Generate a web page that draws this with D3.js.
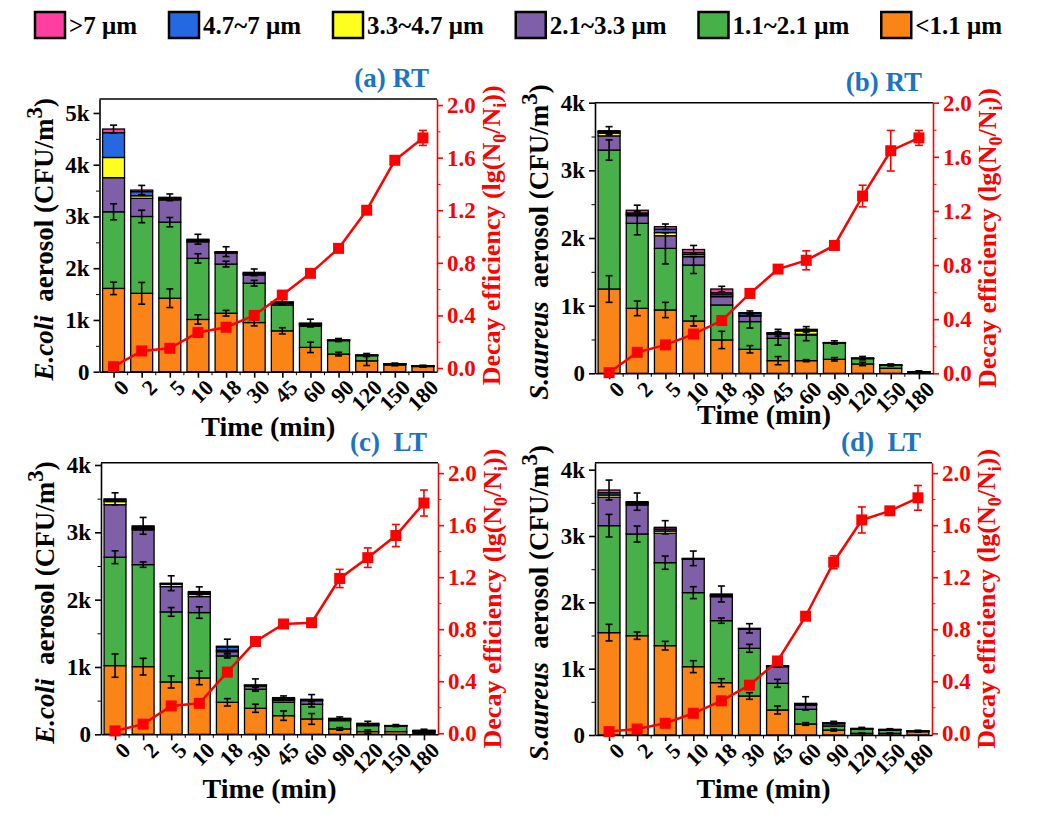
<!DOCTYPE html>
<html>
<head>
<meta charset="utf-8">
<script src="https://cdn.jsdelivr.net/npm/d3@7"></script>
<style>
body { margin: 0; background: #fff; }
svg { display: block; }
text { font-family: "Liberation Serif", "Times New Roman", serif; font-weight: bold; }
</style>
</head>
<body>
<svg id="chart" width="1061" height="822"></svg>
<script>
// categories and size bins
const times = ["0", "2", "5", "10", "18", "30", "45", "60", "90", "120", "150", "180"];
const binNames = ["<1.1 μm", "1.1~2.1 μm", "2.1~3.3 μm", "3.3~4.7 μm", "4.7~7 μm", ">7 μm"];
const binColors = ["#fb8417", "#47b049", "#7f5fa8", "#ffff1f", "#2468e2", "#ff3fa0"];
const legendOrder = [5, 4, 3, 2, 1, 0];

// (a) E.coli RT : CFU/m3 per size bin (<1.1 ... >7)
const aBins = [
    [1610, 1515, 1420, 1010, 1130, 950, 790, 470, 340, 210, 130, 100],
    [1480, 1485, 1470, 1180, 950, 760, 500, 410, 260, 100, 15, 5],
    [660, 350, 430, 320, 210, 160, 30, 25, 5, 5, 3, 2],
    [390, 50, 20, 20, 10, 20, 10, 15, 3, 3, 2, 1],
    [480, 80, 15, 15, 10, 15, 10, 10, 2, 2, 1, 1],
    [70, 30, 15, 15, 10, 15, 10, 10, 2, 2, 1, 1]
];
// error bars: <1.1 top, 1.1~2.1 top, total top
const aErr = [
    [120, 210, 180, 90, 55, 65, 60, 100, 35, 90, 15, 10],
    [155, 120, 90, 90, 55, 55, 0, 0, 0, 0, 0, 0],
    [75, 90, 65, 95, 95, 65, 55, 75, 30, 30, 15, 15]
];
const aDecay = [0.01, 0.13, 0.15, 0.27, 0.31, 0.40, 0.555, 0.72, 0.91, 1.20, 1.58, 1.75];
const aDecayErr = [0, 0, 0, 0, 0, 0, 0, 0, 0, 0, 0, 0.057];

// (b) S.aureus RT
const bBins = [
    [1246, 960, 936, 773, 493, 355, 187, 187, 207, 138, 74, 15],
    [2054, 1257, 911, 827, 517, 409, 330, 380, 236, 79, 44, 3],
    [210, 113, 187, 124, 123, 83, 63, 10, 5, 3, 2, 1],
    [40, 20, 46, 30, 27, 10, 8, 49, 3, 2, 1, 1],
    [20, 20, 50, 30, 30, 30, 6, 10, 2, 1, 1, 1],
    [16, 40, 37, 46, 56, 10, 6, 14, 2, 1, 1, 1]
];
const bErr = [
    [197, 108, 113, 74, 128, 54, 60, 15, 25, 25, 0, 0],
    [150, 170, 230, 125, 0, 95, 100, 85, 0, 0, 0, 0],
    [60, 75, 40, 60, 40, 25, 50, 40, 25, 25, 15, 15]
];
const bDecay = [0.005, 0.155, 0.21, 0.29, 0.39, 0.59, 0.77, 0.835, 0.945, 1.31, 1.645, 1.74];
const bDecayErr = [0, 0, 0, 0, 0, 0, 0, 0.07, 0.03, 0.08, 0.15, 0.055];

// (c) E.coli LT
const cBins = [
    [1020, 1005, 778, 837, 475, 386, 277, 228, 80, 40, 40, 20],
    [1610, 1515, 1040, 971, 689, 283, 198, 218, 123, 89, 84, 15],
    [780, 516, 376, 238, 64, 49, 30, 54, 15, 14, 3, 10],
    [47, 20, 35, 34, 20, 5, 10, 6, 5, 5, 1, 5],
    [23, 20, 8, 20, 50, 5, 10, 5, 5, 5, 1, 5],
    [17, 20, 7, 20, 10, 5, 20, 9, 10, 10, 1, 5]
];
const cErr = [
    [173, 124, 90, 100, 55, 60, 70, 80, 20, 25, 0, 0],
    [95, 40, 65, 85, 30, 30, 0, 40, 0, 0, 0, 0],
    [90, 125, 110, 70, 105, 90, 25, 70, 20, 30, 15, 15]
];
const cDecay = [0.018, 0.07, 0.21, 0.23, 0.47, 0.705, 0.84, 0.85, 1.19, 1.35, 1.52, 1.77];
const cDecayErr = [0, 0, 0, 0, 0, 0, 0, 0, 0.07, 0.075, 0.085, 0.1];

// (d) S.aureus LT
const dBins = [
    [1543, 1497, 1347, 1030, 789, 588, 377, 166, 75, 25, 25, 50],
    [1613, 1533, 1251, 1116, 935, 719, 402, 221, 61, 60, 50, 3],
    [427, 437, 442, 502, 361, 291, 251, 65, 35, 5, 3, 2],
    [35, 17, 35, 5, 14, 3, 5, 8, 5, 3, 2, 2],
    [35, 17, 31, 5, 14, 3, 5, 8, 5, 3, 2, 2],
    [40, 17, 25, 5, 13, 4, 5, 9, 5, 4, 3, 3]
];
const dErr = [
    [125, 55, 65, 90, 60, 50, 60, 20, 15, 5, 5, 5],
    [170, 120, 100, 90, 40, 60, 60, 0, 0, 0, 0, 0],
    [150, 130, 100, 110, 120, 70, 20, 100, 20, 15, 10, 10]
];
const dDecay = [0.013, 0.033, 0.077, 0.154, 0.25, 0.37, 0.556, 0.90, 1.315, 1.64, 1.71, 1.81];
const dDecayErr = [0, 0, 0, 0, 0, 0, 0, 0, 0.05, 0.1, 0.03, 0.095];

const leftTicks = [0, 1000, 2000, 3000, 4000, 5000];
const rightTicks = [0, 0.4, 0.8, 1.2, 1.6, 2.0];

const svg = d3.select("#chart");
const blue = "#1a73c4";
const red = "#ff0000";

const panels = [
    {bins: aBins, err: aErr, decay: aDecay, decayErr: aDecayErr, title: "(a) RT", species: "E.coli",
     x0: 99.5, x1: 437, y0: 99, y1: 371.7, lMax: 5270, rMin: -0.028, rMax: 2.046, timeY: 436, titleDx: 8},
    {bins: bBins, err: bErr, decay: bDecay, decayErr: bDecayErr, title: "(b) RT", species: "S.aureus",
     x0: 595, x1: 933, y0: 102.7, y1: 373.3, lMax: 4000, rMin: 0, rMax: 2.0, timeY: 424, titleDx: 11},
    {bins: cBins, err: cErr, decay: cDecay, decayErr: cDecayErr, title: "(c)  LT", species: "E.coli",
     x0: 101, x1: 438, y0: 462.7, y1: 734.3, lMax: 4034, rMin: -0.008, rMax: 2.08, timeY: 798, titleDx: 11},
    {bins: dBins, err: dErr, decay: dDecay, decayErr: dDecayErr, title: "(d)  LT", species: "S.aureus",
     x0: 595, x1: 932, y0: 462.7, y1: 735, lMax: 4105, rMin: -0.013, rMax: 2.08, timeY: 798, titleDx: 11}
];

function errorBar(g, cx, yTop, yBot, color, cap) {
    g.append("line").attr("x1", cx).attr("x2", cx).attr("y1", yTop).attr("y2", yBot)
        .attr("stroke", color).attr("stroke-width", 1.6);
    [yTop, yBot].forEach(function(yy) {
        g.append("line").attr("x1", cx - cap).attr("x2", cx + cap).attr("y1", yy).attr("y2", yy)
            .attr("stroke", color).attr("stroke-width", 1.6);
    });
}

function drawPanel(p) {
    const g = svg.append("g");
    const x = d3.scalePoint().domain(times).range([p.x0, p.x1]).padding(0.5);
    const y = d3.scaleLinear().domain([0, p.lMax]).range([p.y1, p.y0]);
    const yR = d3.scaleLinear().domain([p.rMin, p.rMax]).range([p.y1, p.y0]);
    const bw = x.step() * 0.78;

    const rows = times.map(function(t, i) { return p.bins.map(function(s) { return s[i]; }); });
    const series = d3.stack().keys(d3.range(binNames.length))(rows);

    // stacked bars
    series.forEach(function(layer, k) {
        g.selectAll(null)
            .data(layer)
            .enter()
            .append("rect")
                .attr("x", function(d, i) { return x(times[i]) - bw / 2; })
                .attr("y", function(d) { return y(d[1]); })
                .attr("width", bw)
                .attr("height", function(d) { return y(d[0]) - y(d[1]); })
                .attr("fill", binColors[k])
                .attr("stroke", "#000")
                .attr("stroke-width", 1.3);
    });

    // bar error bars
    const errLayers = [series[0], series[1], series[series.length - 1]];
    errLayers.forEach(function(layer, k) {
        layer.forEach(function(d, i) {
            const e = p.err[k][i];
            if (e > 0) errorBar(g, x(times[i]), y(d[1] + e), y(Math.max(0, d[1] - e)), "#000", 3.5);
        });
    });

    // left axis
    g.append("g")
        .attr("transform", "translate(" + p.x0 + ",0)")
        .call(d3.axisLeft(y).tickValues(d3.range(500, p.lMax, 1000)).tickSize(3.5).tickFormat(""))
        .call(function(a) { a.select(".domain").remove(); });
    const yAxis = g.append("g")
        .attr("transform", "translate(" + p.x0 + ",0)")
        .call(d3.axisLeft(y).tickValues(leftTicks.filter(function(v) { return v <= p.lMax; }))
            .tickSize(6).tickSizeOuter(0)
            .tickFormat(function(v) { return v === 0 ? "0" : (v / 1000) + "k"; }));
    yAxis.selectAll("text").attr("font-size", 23).attr("fill", "#000").attr("dx", -1);

    // right axis
    g.append("g")
        .attr("transform", "translate(" + p.x1 + ",0)")
        .call(d3.axisRight(yR).tickValues([0.2, 0.6, 1.0, 1.4, 1.8]).tickSize(3.5).tickFormat(""))
        .call(function(a) { a.select(".domain").remove(); a.selectAll("line").attr("stroke", red); });
    const rAxis = g.append("g")
        .attr("transform", "translate(" + p.x1 + ",0)")
        .call(d3.axisRight(yR).tickValues(rightTicks).tickSize(6).tickSizeOuter(0).tickFormat(d3.format(".1f")));
    rAxis.selectAll("line").attr("stroke", red);
    rAxis.select(".domain").attr("stroke", red);
    rAxis.selectAll("text").attr("font-size", 23).attr("fill", red).attr("dx", 1);

    // bottom axis
    const xAxis = g.append("g")
        .attr("transform", "translate(0," + p.y1 + ")")
        .call(d3.axisBottom(x).tickSize(6).tickSizeOuter(0));
    xAxis.selectAll("text")
        .attr("font-size", 22)
        .attr("fill", "#000")
        .attr("text-anchor", "end")
        .attr("dominant-baseline", "central")
        .attr("y", 0).attr("dy", null)
        .attr("transform", "translate(11,12) rotate(-45)");
    times.slice(1).forEach(function(t) {
        g.append("line")
            .attr("x1", x(t) - x.step() / 2).attr("x2", x(t) - x.step() / 2)
            .attr("y1", p.y1).attr("y2", p.y1 + 3.5)
            .attr("stroke", "#000");
    });

    [yAxis, xAxis].forEach(function(a) { a.selectAll("line, path").attr("stroke-width", 1.6); });
    rAxis.selectAll("line, path").attr("stroke-width", 1.6);

    // top frame
    g.append("line")
        .attr("x1", p.x0).attr("x2", p.x1).attr("y1", p.y0).attr("y2", p.y0)
        .attr("stroke", "#000").attr("stroke-width", 1.6);

    // decay line
    const line = d3.line()
        .x(function(d, i) { return x(times[i]); })
        .y(function(d) { return yR(d); });
    g.append("path")
        .datum(p.decay)
        .attr("d", line)
        .attr("fill", "none")
        .attr("stroke", red)
        .attr("stroke-width", 2.5);
    p.decay.forEach(function(v, i) {
        const e = p.decayErr[i];
        if (e > 0) errorBar(g, x(times[i]), yR(v + e), yR(v - e), red, 4);
    });
    g.selectAll(null)
        .data(p.decay)
        .enter()
        .append("rect")
            .attr("x", function(d, i) { return x(times[i]) - 5.5; })
            .attr("y", function(d) { return yR(d) - 5.5; })
            .attr("width", 11)
            .attr("height", 11)
            .attr("fill", red);

    // titles
    g.append("text")
        .attr("x", p.x1 - p.titleDx)
        .attr("y", p.y0 - 12)
        .attr("text-anchor", "end")
        .attr("font-size", 27)
        .attr("fill", blue)
        .attr("xml:space", "preserve")
        .text(p.title);

    const midY = (p.y0 + p.y1) / 2;
    const yt = g.append("text")
        .attr("transform", "translate(" + (p.x0 - 47) + "," + (midY + 4) + ") rotate(-90)")
        .attr("text-anchor", "middle")
        .attr("font-size", 27)
        .attr("fill", "#000");
    yt.append("tspan").attr("font-style", "italic").text(p.species);
    yt.append("tspan").text("\u00a0 aerosol (CFU/m");
    yt.append("tspan").attr("dy", -11).attr("font-size", 23).text("3");
    yt.append("tspan").attr("dy", 11).text(")");

    const rt = g.append("text")
        .attr("transform", "translate(" + (p.x1 + 63) + "," + midY + ") rotate(-90)")
        .attr("text-anchor", "middle")
        .attr("font-size", 26)
        .attr("fill", red);
    rt.append("tspan").text("Decay efficiency (lg(N");
    rt.append("tspan").attr("dy", 6).attr("font-size", 18).text("0");
    rt.append("tspan").attr("dy", -6).text("/N");
    rt.append("tspan").attr("dy", 6).attr("font-size", 18).text("i");
    rt.append("tspan").attr("dy", -6).text("))");

    g.append("text")
        .attr("x", (p.x0 + p.x1) / 2)
        .attr("y", p.timeY)
        .attr("text-anchor", "middle")
        .attr("font-size", 28)
        .attr("fill", "#000")
        .text("Time (min)");
}

panels.forEach(drawPanel);

// legend
let lx = 35;
legendOrder.forEach(function(k) {
    svg.append("rect")
        .attr("x", lx).attr("y", 12)
        .attr("width", 30).attr("height", 26)
        .attr("fill", binColors[k])
        .attr("stroke", "#000")
        .attr("stroke-width", 2.5);
    const t = svg.append("text")
        .attr("x", lx + 34).attr("y", 34)
        .attr("font-size", 25)
        .attr("fill", "#000")
        .text(binNames[k]);
    lx += 34 + t.node().getComputedTextLength() + 32;
});
</script>
</body>
</html>
